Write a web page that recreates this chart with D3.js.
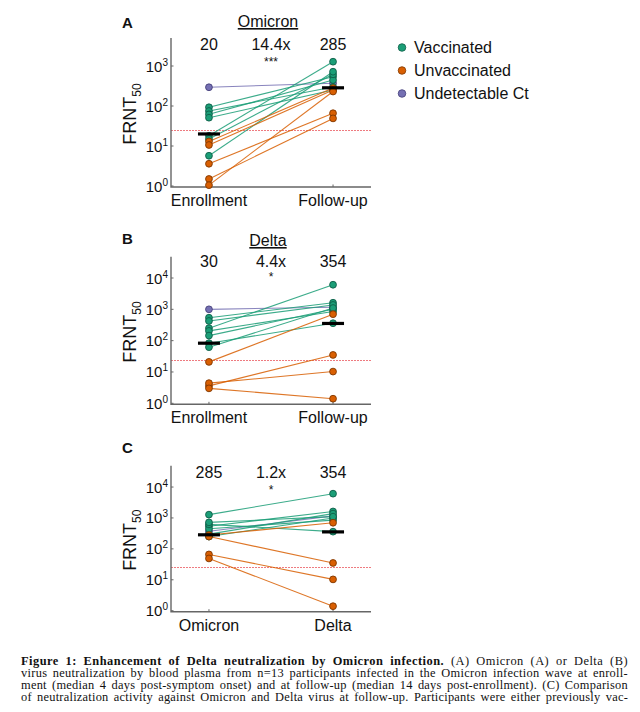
<!DOCTYPE html>
<html>
<head>
<meta charset="utf-8">
<script src="https://cdn.jsdelivr.net/npm/d3@7"></script>
<style>
  body { margin: 0; background: #fff; }
  svg { display: block; font-family: "Liberation Sans", Arial, sans-serif; }
</style>
</head>
<body>
<svg id="fig" width="640" height="712"></svg>
<script>
// participants: group + FRNT50 at each timepoint (null = not measured)
const groups        = ["und", "vac", "vac", "vac", "vac", "vac", "vac", "vac", "unv", "unv", "unv", "unv", "unv"];
const omicronEnroll = [294, 18, 93, 75, 62, 51, 15, 5.7, 13, 10.6, 3.6, 1.5, 1.05];
const omicronFollow = [370, 1280, 540, 300, 445, 250, 620, 720, 280, 250, 66, 49, 230];
const deltaEnroll   = [1000, 250, 540, 425, 205, 145, 83, 62, 21, 3.6, 4.4, 3.0, null];
const deltaFollow   = [1170, 6100, 1620, 1380, 850, 1000, 360, 1100, 700, 35, 10.3, 1.4, null];

const legendLabels = ["Vaccinated", "Unvaccinated", "Undetectable Ct"];
const legendKeys   = ["vac", "unv", "und"];
const lod = 25;

// per panel: title, x categories, median bar values, texts above
const panelIds      = ["A", "B", "C"];
const panelTitles   = ["Omicron", "Delta", ""];
const xCategories   = [["Enrollment", "Follow-up"], ["Enrollment", "Follow-up"], ["Omicron", "Delta"]];
const medianBars    = [[20, 285], [83, 354], [285, 354]];
const medianLabels  = [["20", "285"], ["30", "354"], ["285", "354"]];
const foldLabels    = ["14.4x", "4.4x", "1.2x"];
const starLabels    = ["***", "*", "*"];
const yTicks        = [[1, 10, 100, 1000], [1, 10, 100, 1000, 10000], [1, 10, 100, 1000, 10000]];
const yMax          = [Math.pow(10, 3.7), Math.pow(10, 4.68), Math.pow(10, 4.69)];

const panelSeries = [
  [omicronEnroll, omicronFollow],
  [deltaEnroll, deltaFollow],
  [omicronFollow, deltaFollow]
];

const fill   = { vac: "#1b9e77", unv: "#d95f02", und: "#7570b3" };
const stroke = { vac: "#0f5e47", unv: "#7f3700", und: "#45407a" };

// layout (pixel frames of each panel)
const frames = [
  { top: 38,    zero: 186,   letterY: 28,  titleY: 27,  numY: 50,  starY: 66 },
  { top: 256.7, zero: 403.3, letterY: 244, titleY: 246, numY: 267, starY: 281 },
  { top: 465.7, zero: 610.7, letterY: 453, titleY: 0,   numY: 478, starY: 494 }
];
const axisLeft = 171, axisRight = 371;

const svg = d3.select("#fig");
svg.append("rect").attr("width", 640).attr("height", 712).attr("fill", "#fff");

panelIds.forEach((id, p) => {
  const f = frames[p];
  const g = svg.append("g");

  const x = d3.scalePoint()
    .domain(xCategories[p])
    .range([axisLeft, axisRight])
    .padding(0.306);
  const y = d3.scaleLog()
    .domain([1, yMax[p]])
    .range([f.zero, f.top]);

  // limit of detection
  const ly = Math.round(y(lod)) + 0.5;
  g.append("line")
    .attr("x1", axisLeft).attr("x2", axisRight)
    .attr("y1", ly).attr("y2", ly)
    .attr("stroke", "#ee7b80").attr("stroke-width", 1)
    .attr("stroke-dasharray", "2,1");

  // axes
  g.append("path")
    .attr("d", `M${axisLeft},${f.top}V${f.zero + 1}H${axisRight}`)
    .attr("fill", "none").attr("stroke", "#666").attr("stroke-width", 1.4);

  yTicks[p].forEach(t => {
    g.append("line")
      .attr("x1", axisLeft).attr("x2", axisLeft + 2.5)
      .attr("y1", y(t)).attr("y2", y(t))
      .attr("stroke", "#666").attr("stroke-width", 1);
    const lab = g.append("text")
      .attr("x", axisLeft - 3).attr("y", y(t) + 5.5)
      .attr("text-anchor", "end").attr("font-size", 15).attr("fill", "#111");
    lab.append("tspan").text("10");
    lab.append("tspan").attr("dy", -6).attr("font-size", 10).text(Math.round(Math.log10(t)));
  });

  xCategories[p].forEach(c => {
    g.append("line")
      .attr("x1", x(c)).attr("x2", x(c))
      .attr("y1", f.zero + 1).attr("y2", f.zero - 1.5)
      .attr("stroke", "#666").attr("stroke-width", 1);
    g.append("text")
      .attr("x", x(c)).attr("y", f.zero + 20)
      .attr("text-anchor", "middle").attr("font-size", 16).attr("fill", "#111")
      .text(c);
  });

  // y label
  const yl = g.append("text")
    .attr("transform", `translate(136,${(f.top + f.zero) / 2 + 2}) rotate(-90)`)
    .attr("text-anchor", "middle").attr("font-size", 18).attr("fill", "#111");
  yl.append("tspan").text("FRNT");
  yl.append("tspan").attr("font-size", 12).attr("dy", 5).text("50");

  // letter + title
  g.append("text")
    .attr("x", 122).attr("y", f.letterY)
    .attr("font-size", 15).attr("font-weight", "bold").attr("fill", "#111")
    .text(id);
  if (panelTitles[p]) {
    g.append("text")
      .attr("x", 268).attr("y", f.titleY)
      .attr("text-anchor", "middle").attr("font-size", 16).attr("fill", "#111")
      .attr("text-decoration", "underline")
      .text(panelTitles[p]);
  }

  // annotations
  const cx = xCategories[p].map(c => x(c));
  g.append("text").attr("x", cx[0]).attr("y", f.numY)
    .attr("text-anchor", "middle").attr("font-size", 16).attr("fill", "#111").text(medianLabels[p][0]);
  g.append("text").attr("x", cx[1]).attr("y", f.numY)
    .attr("text-anchor", "middle").attr("font-size", 16).attr("fill", "#111").text(medianLabels[p][1]);
  g.append("text").attr("x", (cx[0] + cx[1]) / 2).attr("y", f.numY)
    .attr("text-anchor", "middle").attr("font-size", 16).attr("fill", "#111").text(foldLabels[p]);
  g.append("text").attr("x", (cx[0] + cx[1]) / 2).attr("y", f.starY)
    .attr("text-anchor", "middle").attr("font-size", 12).attr("fill", "#111").text(starLabels[p]);

  // paired data
  const [s0, s1] = panelSeries[p];
  const pairs = groups.map((grp, i) => ({ grp, a: s0[i], b: s1[i] }))
    .filter(d => d.a != null && d.b != null);

  g.selectAll(".pair")
    .data(pairs)
    .enter()
    .append("line")
    .attr("x1", cx[0]).attr("x2", cx[1])
    .attr("y1", d => y(d.a)).attr("y2", d => y(d.b))
    .attr("stroke", d => fill[d.grp])
    .attr("stroke-width", 1.1)
    .attr("opacity", 0.85);

  [["a", 0], ["b", 1]].forEach(([k, j]) => {
    g.selectAll(".pt" + k)
      .data(pairs)
      .enter()
      .append("circle")
      .attr("cx", cx[j])
      .attr("cy", d => y(d[k]))
      .attr("r", 3.4)
      .attr("fill", d => fill[d.grp])
      .attr("stroke", d => stroke[d.grp])
      .attr("stroke-width", 0.9);
  });

  // median bars
  medianBars[p].forEach((m, j) => {
    g.append("line")
      .attr("x1", cx[j] - 11).attr("x2", cx[j] + 11)
      .attr("y1", y(m)).attr("y2", y(m))
      .attr("stroke", "#000").attr("stroke-width", 3.2);
  });
});

// legend
const leg = svg.append("g");
legendKeys.forEach((k, i) => {
  leg.append("circle")
    .attr("cx", 402).attr("cy", 47.5 + i * 23)
    .attr("r", 3.8)
    .attr("fill", fill[k]).attr("stroke", stroke[k]).attr("stroke-width", 0.8);
  leg.append("text")
    .attr("x", 414).attr("y", 53 + i * 23)
    .attr("font-size", 16).attr("fill", "#111")
    .text(legendLabels[i]);
});

// caption, justified to a fixed width (split between letter and word spacing)
const capLines = [
  ["Figure 1: Enhancement of Delta neutralization by Omicron infection.", " (A) Omicron (A) or Delta (B)"],
  ["", "virus neutralization by blood plasma from n=13 participants infected in the Omicron infection wave at enroll-"],
  ["", "ment (median 4 days post-symptom onset) and at follow-up (median 14 days post-enrollment). (C) Comparison"],
  ["", "of neutralization activity against Omicron and Delta virus at follow-up. Participants were either previously vac-"]
];
const capWidth = 607;
const cap = svg.append("g")
  .attr("font-family", "'Liberation Serif', 'DejaVu Serif', serif")
  .attr("fill", "#111");
capLines.forEach((ln, i) => {
  let size = 12.4;
  const t = cap.append("text")
    .attr("x", 21).attr("y", 665 + i * 12)
    .attr("font-size", size);
  if (ln[0]) t.append("tspan").attr("font-weight", "bold").text(ln[0]);
  t.append("tspan").text(ln[1]);
  let w = t.node().getComputedTextLength();
  if (w > capWidth) {
    size = size * capWidth / w;
    t.attr("font-size", size);
    w = t.node().getComputedTextLength();
  }
  const str = ln[0] + ln[1];
  const spaces = str.split(" ").length - 1;
  const extra = capWidth - w;
  if (extra > 0) {
    const ls = extra * 0.5 / (str.length - 1);
    t.attr("letter-spacing", ls);
    const w2 = t.node().getComputedTextLength();
    t.attr("word-spacing", Math.max(0, (capWidth - w2) / spaces));
  }
});
</script>
</body>
</html>
